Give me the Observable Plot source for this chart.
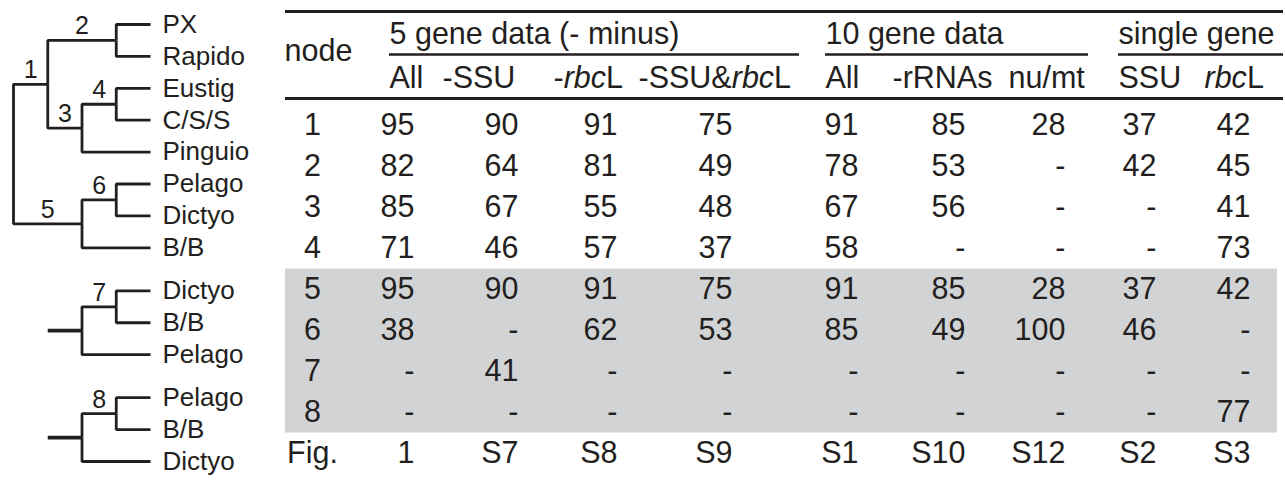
<!DOCTYPE html>
<html>
<head>
<meta charset="utf-8">
<script src="https://cdn.jsdelivr.net/npm/d3@7"></script>
<script src="https://cdn.jsdelivr.net/npm/@observablehq/plot@0.6"></script>
<style>
  html, body { margin: 0; padding: 0; background: #ffffff; }
  #chart { position: relative; width: 1285px; height: 480px; overflow: hidden; }
  #chart > svg { position: absolute; left: 0; top: 0; }
</style>
</head>
<body>
<div id="chart"></div>
<script>
// ---------------- data ----------------
// tree topologies ("|" separates clades; unlabeled internal nodes: r, s7, r7, s8, r8)
const treePaths = [
  "r|1|2|PX", "r|1|2|Rapido",
  "r|1|3|4|Eustig", "r|1|3|4|C/S/S", "r|1|3|Pinguio",
  "r|5|6|Pelago", "r|5|6|Dictyo", "r|5|B/B",
  "s7|r7|7|Dictyo", "s7|r7|7|B/B", "s7|r7|Pelago",
  "s8|r8|8|Pelago", "s8|r8|8|B/B", "s8|r8|Dictyo"
];
const nodeNames = ["1", "2", "3", "4", "5", "6", "7", "8"];
const shadedNodes = ["5", "6", "7", "8"];

const groupLabels = ["5 gene data (- minus)", "10 gene data", "single gene"];
const subHeaders = [
  ["All", "-SSU", "-rbcL", "-SSU&rbcL"],
  ["All", "-rRNAs", "nu/mt"],
  ["SSU", "rbcL"]
];
// support values per column, one per node 1..8 (null = "-")
const all5         = [95, 82, 85, 71, 95, 38, null, null];
const minusSSU     = [90, 64, 67, 46, 90, null, 41, null];
const minusRbcL    = [91, 81, 55, 57, 91, 62, null, null];
const minusSSURbcL = [75, 49, 48, 37, 75, 53, null, null];
const all10        = [91, 78, 67, 58, 91, 85, null, null];
const minusRRNAs   = [85, 53, 56, null, 85, 49, null, null];
const nuMt         = [28, null, null, null, 28, 100, null, null];
const ssuOnly      = [37, 42, null, null, 37, 46, null, null];
const rbcLOnly     = [42, 45, 41, 73, 42, null, null, 77];
const figLabels    = ["1", "S7", "S8", "S9", "S1", "S10", "S12", "S2", "S3"];
const figRowLabel  = "Fig.";
const nodeHeader   = "node";

// ---------------- style / layout config ----------------
const INK = "#231f20";
const SHADE = "#d1d3d4";
const FONT = "'Liberation Sans', Arial, Helvetica, sans-serif";
const TABLE_FS = 30.5;

// ---------------- tree (d3 cluster layout, drawn by Plot) ----------------
const delim = "|";
const treeRows = [];
const seen = new Set();
for (const p of treePaths) {
  const parts = ("R" + delim + p).split(delim);
  for (let i = 1; i <= parts.length; i++) {
    const id = parts.slice(0, i).join(delim);
    if (seen.has(id)) continue;
    seen.add(id);
    treeRows.push({id, parent: i > 1 ? parts.slice(0, i - 1).join(delim) : null, name: parts[i - 1]});
  }
}
const root = d3.stratify().id(d => d.id).parentId(d => d.parent)(treeRows);
const topOf = n => { while (n.depth > 1) n = n.parent; return n; };
d3.cluster().nodeSize([1, 1]).separation((a, b) => topOf(a) === topOf(b) ? 1 : 1.35)(root);

const links = root.descendants()
  .filter(n => n.parent && n.parent.parent)
  .map(n => ({x1: n.parent.y, y1: n.parent.x, x2: n.y, y2: n.x, stem: n.parent.children.length === 1}));
const leaves = root.leaves().map(n => ({x: n.y, y: n.x, name: n.data.name}));
const nodeLabels = root.descendants()
  .filter(n => n.parent && nodeNames.includes(n.data.name))
  .map(n => ({x: (n.parent.y + n.y) / 2, y: n.x, name: n.data.name}));
const depthExtent = [d3.min(root.descendants().filter(n => n.depth === 1), n => n.y), d3.max(leaves, d => d.x)];

const treePlot = Plot.plot({
  width: 285, height: 480, margin: 0, axis: null,
  style: {background: "transparent", fontFamily: FONT, color: INK, overflow: "visible"},
  x: {type: "linear", domain: depthExtent, range: [13, 150]},
  y: {type: "linear", domain: d3.extent(leaves, d => d.y), range: [24, 461]},
  marks: [
    Plot.link(links.filter(d => !d.stem), {x1: "x1", y1: "y1", x2: "x2", y2: "y2", curve: "step-before", stroke: INK, strokeWidth: 2.8}),
    Plot.link(links.filter(d => d.stem), {x1: "x1", y1: "y1", x2: "x2", y2: "y2", curve: "step-before", stroke: INK, strokeWidth: 3.8}),
    Plot.text(leaves, {x: "x", y: "y", text: "name", textAnchor: "start", dx: 12, fontSize: 26, fill: INK}),
    Plot.text(nodeLabels, {x: "x", y: "y", text: "name", dy: -14, fontSize: 25, fill: INK})
  ]
});

// ---------------- table header ----------------
// header anchor stops: 0 = node column; each group: its sub-columns then an end stop
const groupData = [], subData = [];
let stop = 1;
groupLabels.forEach((g, gi) => {
  const start = stop;
  subHeaders[gi].forEach(s => subData.push({label: s, stop: stop++, level: 3}));
  groupData.push({label: g, start, end: stop++, level: 1, under: 2});
});
const headerPlot = Plot.plot({
  width: 1285, height: 100, marginLeft: 285, marginRight: 2, marginTop: 0, marginBottom: 0, axis: null,
  style: {background: "transparent", fontFamily: FONT, color: INK, overflow: "visible"},
  x: {type: "linear", domain: d3.range(stop), range: [318, 389, 442, 553, 638, 799, 825, 892, 1008, 1088, 1118, 1204, 1283]},
  y: {type: "linear", domain: [0, 1, 2, 3, 4], range: [11, 34, 54, 78, 98]},
  marks: [
    Plot.ruleY([0, 4], {stroke: INK, strokeWidth: 3}),
    Plot.ruleY(groupData, {x1: "start", x2: "end", y: "under", stroke: INK, strokeWidth: 2.5}),
    Plot.text(groupData, {x: "start", y: "level", text: "label", textAnchor: "start", fontSize: TABLE_FS, fill: INK}),
    Plot.text(subData, {x: "stop", y: "level", text: "label", textAnchor: "start", fontSize: TABLE_FS, fill: INK}),
    Plot.text([{label: nodeHeader, stop: 0, level: 2}], {x: "stop", y: "level", text: "label", dy: -3, fontSize: TABLE_FS, fill: INK})
  ]
});
// italicise the gene name "rbc"
headerPlot.querySelectorAll("text").forEach(t => {
  const s = t.textContent;
  const i = s.indexOf("rbc");
  if (i < 0) return;
  t.textContent = "";
  const ns = "http://www.w3.org/2000/svg";
  const parts = [[s.slice(0, i), null], ["rbc", "italic"], [s.slice(i + 3), null]];
  for (const [txt, st] of parts) {
    if (!txt) continue;
    const sp = document.createElementNS(ns, "tspan");
    if (st) sp.setAttribute("font-style", st);
    sp.textContent = txt;
    t.appendChild(sp);
  }
});

// ---------------- table body ----------------
const columns = [all5, minusSSU, minusRbcL, minusSSURbcL, all10, minusRRNAs, nuMt, ssuOnly, rbcLOnly];
const cells = [];
nodeNames.forEach((nd, r) => columns.forEach((col, c) => cells.push({row: r, col: c + 1, text: col[r] == null ? "-" : String(col[r])})));
figLabels.forEach((f, c) => cells.push({row: nodeNames.length, col: c + 1, text: f}));
const rowLabels = [...nodeNames, figRowLabel].map((t, r) => ({row: r, col: 0, text: t}));
const shadedIdx = shadedNodes.map(n => nodeNames.indexOf(n));
const shadeBand = [{y1: d3.min(shadedIdx) - 0.5, y2: d3.max(shadedIdx) + 0.5}];

const bodyPlot = Plot.plot({
  width: 1285, height: 480, marginLeft: 285, marginRight: 8, marginTop: 0, marginBottom: 0, axis: null,
  style: {background: "transparent", fontFamily: FONT, color: INK, overflow: "visible"},
  x: {type: "linear", domain: d3.range(columns.length + 1), range: [312, 414, 518, 617, 732, 858, 965, 1065, 1156, 1250]},
  y: {type: "linear", domain: [0, nodeNames.length], range: [125, 453]},
  marks: [
    Plot.rect(shadeBand, {y1: "y1", y2: "y2", fill: SHADE}),
    Plot.text(rowLabels, {x: "col", y: "row", text: "text", textAnchor: "middle", fontSize: TABLE_FS, fill: INK}),
    Plot.text(cells, {x: "col", y: "row", text: "text", textAnchor: "end", fontSize: TABLE_FS, fill: INK})
  ]
});

const chart = document.getElementById("chart");
chart.appendChild(bodyPlot);
chart.appendChild(headerPlot);
chart.appendChild(treePlot);
</script>
</body>
</html>
